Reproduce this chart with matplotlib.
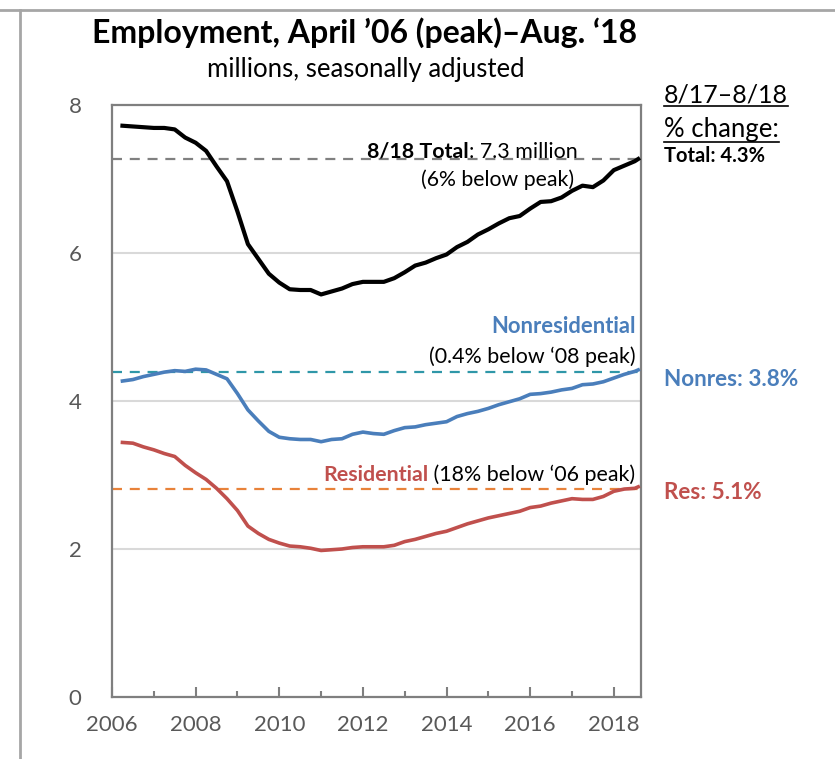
import matplotlib
matplotlib.use("Agg")
import matplotlib.pyplot as plt
from matplotlib.lines import Line2D

# ---------------- data (millions, seasonally adjusted) ----------------
dates = [2006.25, 2006.5, 2006.75, 2007.0, 2007.25, 2007.5, 2007.75,
         2008.0, 2008.25, 2008.5, 2008.75, 2009.0, 2009.25, 2009.5, 2009.75,
         2010.0, 2010.25, 2010.5, 2010.75, 2011.0, 2011.25, 2011.5, 2011.75,
         2012.0, 2012.25, 2012.5, 2012.75, 2013.0, 2013.25, 2013.5, 2013.75,
         2014.0, 2014.25, 2014.5, 2014.75, 2015.0, 2015.25, 2015.5, 2015.75,
         2016.0, 2016.25, 2016.5, 2016.75, 2017.0, 2017.25, 2017.5, 2017.75,
         2018.0, 2018.25, 2018.5, 2018.583]

total = [7.72, 7.71, 7.70, 7.69, 7.69, 7.67, 7.56,
         7.49, 7.38, 7.17, 6.97, 6.56, 6.12, 5.92, 5.72,
         5.60, 5.51, 5.50, 5.50, 5.44, 5.48, 5.52, 5.58,
         5.61, 5.61, 5.61, 5.66, 5.74, 5.83, 5.87, 5.93,
         5.98, 6.08, 6.15, 6.25, 6.32, 6.40, 6.47, 6.50,
         6.60, 6.69, 6.70, 6.75, 6.84, 6.91, 6.89, 6.98,
         7.12, 7.18, 7.24, 7.27]

nonres = [4.27, 4.29, 4.33, 4.36, 4.39, 4.41, 4.40,
          4.43, 4.42, 4.36, 4.30, 4.10, 3.88, 3.73, 3.59,
          3.51, 3.49, 3.48, 3.48, 3.45, 3.48, 3.49, 3.55,
          3.58, 3.56, 3.55, 3.60, 3.64, 3.65, 3.68, 3.70,
          3.72, 3.79, 3.83, 3.86, 3.90, 3.95, 3.99, 4.03,
          4.09, 4.10, 4.12, 4.15, 4.17, 4.22, 4.23, 4.26,
          4.31, 4.36, 4.40, 4.42]

res = [3.44, 3.43, 3.38, 3.34, 3.29, 3.25, 3.13,
       3.03, 2.94, 2.82, 2.68, 2.52, 2.31, 2.21, 2.13,
       2.08, 2.04, 2.03, 2.01, 1.98, 1.99, 2.00, 2.02,
       2.03, 2.03, 2.03, 2.05, 2.10, 2.13, 2.17, 2.21,
       2.24, 2.29, 2.34, 2.38, 2.42, 2.45, 2.48, 2.51,
       2.56, 2.58, 2.62, 2.65, 2.68, 2.67, 2.67, 2.71,
       2.78, 2.81, 2.82, 2.84]

ref_levels = {"total": 7.27, "nonres": 4.39, "res": 2.81}

yticks = [0, 2, 4, 6, 8]
xtick_years = [2006, 2008, 2010, 2012, 2014, 2016, 2018]
xminor_years = [2007, 2009, 2011, 2013, 2015, 2017]

title = "Employment, April \u201906 (peak)\u2013Aug. \u201818"
subtitle = "millions, seasonally adjusted"

# ---------------- style ----------------
FONT = "Lato"
plt.rcParams["font.family"] = [FONT, "DejaVu Sans"]
BLACK = "#000000"
BLUE = "#4a7ebb"
RED = "#c0504d"
TEAL = "#2f97a8"
ORANGE = "#e8823a"
GRAYDASH = "#808080"
SPINE = "#7f7f7f"
TICKC = "#595959"

W, H = 835, 759
fig = plt.figure(figsize=(W / 100, H / 100), dpi=100)

def fx(px):
    return px / W

def fy(py):
    return 1 - py / H

ax = fig.add_axes([fx(112), fy(697), fx(641) - fx(112), fy(105) - fy(697)])
ax.set_xlim(2006.0, 2018.65)
ax.set_ylim(0, 8)

for v in [2, 4, 6]:
    ax.axhline(v, color="#d9d9d9", lw=1.5, zorder=0)

dash = (0, (4.5, 3.5))
ax.axhline(ref_levels["total"], color=GRAYDASH, lw=1.6, ls=dash, zorder=1)
ax.axhline(ref_levels["nonres"], color=TEAL, lw=1.6, ls=dash, zorder=1)
ax.axhline(ref_levels["res"], color=ORANGE, lw=1.6, ls=dash, zorder=1)

ax.plot(dates, total, color=BLACK, lw=3.0, solid_joinstyle="round", zorder=3)
ax.plot(dates, nonres, color=BLUE, lw=2.6, solid_joinstyle="round", zorder=3)
ax.plot(dates, res, color=RED, lw=2.6, solid_joinstyle="round", zorder=3)

for s in ax.spines.values():
    s.set_color(SPINE)
    s.set_linewidth(1.6)

ax.set_yticks(yticks)
ax.set_yticklabels([str(v) for v in yticks])
ax.tick_params(axis="y", length=0, pad=22, labelsize=16, labelcolor=TICKC)
ax.set_xticks(xtick_years)
ax.set_xticklabels([str(v) for v in xtick_years])
ax.set_xticks(xminor_years, minor=True)
ax.tick_params(axis="x", which="major", direction="in", length=7, width=1.5,
               color=SPINE, pad=13, labelsize=16, labelcolor=TICKC)
ax.tick_params(axis="x", which="minor", direction="in", length=4, width=1.5,
               color=SPINE)

fig.text(fx(365), fy(43), title, ha="center", va="baseline",
         fontsize=23, fontweight="bold", color=BLACK)
fig.text(fx(366), fy(77), subtitle, ha="center", va="baseline",
         fontsize=18.5, color=BLACK)

def two_part(x, y, bold_txt, bold_color, rest_txt, size):
    t1 = ax.text(x, y, rest_txt, ha="right", va="baseline", fontsize=size,
                 color=BLACK, zorder=4)
    ax.annotate(bold_txt, xy=(0, 0), xycoords=t1, ha="right", va="bottom",
                fontsize=size, fontweight="bold", color=bold_color, zorder=4)

two_part(2017.14, 7.285, "8/18 Total", BLACK, ": 7.3 million", 15.4)
ax.text(2017.06, 6.90, "(6% below peak)", ha="right", va="baseline",
        fontsize=15.3, color=BLACK)
ax.text(2018.52, 4.915, "Nonresidential", ha="right", va="baseline",
        fontsize=15.8, fontweight="bold", color=BLUE)
ax.text(2018.52, 4.52, "(0.4% below \u201808 peak)", ha="right", va="baseline",
        fontsize=15.4, color=BLACK)
two_part(2018.52, 2.92, "Residential", RED, " (18% below \u201806 peak)", 15.4)

h1 = fig.text(fx(664), fy(102.5), "8/17\u20138/18", ha="left", va="baseline",
              fontsize=18, color=BLACK)
h2 = fig.text(fx(664), fy(137.5), "% change:", ha="left", va="baseline",
              fontsize=18.5, color=BLACK)
fig.text(fx(664), fy(162.5), "Total: 4.3%", ha="left", va="baseline",
         fontsize=14.5, fontweight="bold", color=BLACK)
fig.text(fx(664), fy(386), "Nonres: 3.8%", ha="left", va="baseline",
         fontsize=16.2, fontweight="bold", color=BLUE)
fig.text(fx(664), fy(499), "Res: 5.1%", ha="left", va="baseline",
         fontsize=16.2, fontweight="bold", color=RED)

fig.canvas.draw()
r = fig.canvas.get_renderer()
for t, uy in [(h1, 106), (h2, 142)]:
    bb = t.get_window_extent(r)
    fig.add_artist(Line2D([bb.x0 / W, bb.x1 / W], [fy(uy), fy(uy)],
                          transform=fig.transFigure, color=BLACK, lw=1.2))

fig.add_artist(Line2D([0, 1], [fy(10), fy(10)], transform=fig.transFigure,
                      color="#a6a6a6", lw=2))
fig.add_artist(Line2D([fx(20), fx(20)], [fy(10), 0], transform=fig.transFigure,
                      color="#a6a6a6", lw=2))

fig.savefig("out.png", dpi=100)
